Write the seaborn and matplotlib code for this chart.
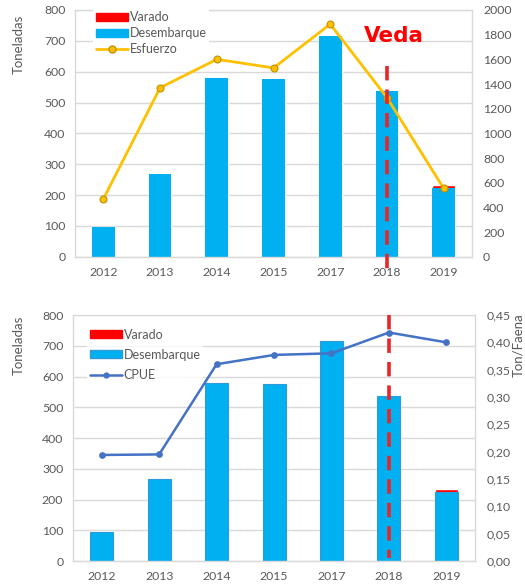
import numpy as np
import pandas as pd
import matplotlib
matplotlib.use("Agg")
import matplotlib.pyplot as plt
import seaborn as sns
from matplotlib.patches import Patch
from matplotlib.lines import Line2D
from matplotlib.ticker import FuncFormatter, MultipleLocator

years = ["2012", "2013", "2014", "2015", "2017", "2018", "2019"]
desembarque = [95, 267, 580, 577, 717, 538, 223]
varado = [0, 0, 0, 0, 0, 0, 10]
esfuerzo = [470, 1370, 1600, 1530, 1885, 1290, 555]
cpue = [0.194, 0.195, 0.360, 0.377, 0.380, 0.418, 0.400]
veda_year = "2018"

sns.set_style("white")
plt.rcParams['font.family'] = ['Lato', 'DejaVu Sans']

BLUE = "#00B0F0"
RED = "#FF0000"
GOLD = "#FFC000"
CPUE_C = "#4472C4"
GRID = "#D9D9D9"
TXT = "#595959"
TS = 8.8

df = pd.DataFrame({"year": years, "desembarque": desembarque, "varado": varado,
                   "esfuerzo": esfuerzo, "cpue": cpue})
df["total"] = df["desembarque"] + df["varado"]

fig = plt.figure(figsize=(5.25, 5.85), dpi=100)
ax1 = fig.add_axes([0.143, 0.561, 0.756, 0.422])
ax3 = fig.add_axes([0.139, 0.041, 0.766, 0.4205])


def style_left(ax):
    ax.set_ylim(0, 800)
    ax.yaxis.set_major_locator(MultipleLocator(100))
    ax.grid(axis="y", color=GRID, linewidth=1)
    ax.set_axisbelow(True)
    for s in ax.spines.values():
        s.set_color(GRID)
        s.set_linewidth(1)
    ax.tick_params(axis="both", length=0, labelsize=TS, colors=TXT, pad=7)
    ax.set_xlabel("")
    ax.set_ylabel("")
    ax.set_xlim(-0.5, len(years) - 0.5)


def bars(ax, edge=None):
    sns.barplot(data=df, x="year", y="total", color=RED, width=0.4,
                saturation=1, ax=ax, order=years)
    sns.barplot(data=df, x="year", y="desembarque", color=BLUE, width=0.4,
                saturation=1, ax=ax, order=years,
                edgecolor=edge if edge else BLUE, linewidth=0.8 if edge else 0)
    style_left(ax)


# ---------- top chart ----------
bars(ax1)
ax2 = ax1.twinx()
sns.pointplot(data=df, x="year", y="esfuerzo", order=years, ax=ax2, color=GOLD,
              markers="o", linewidth=2, markersize=5,
              markeredgecolor="#BF9000", markeredgewidth=0.8, errorbar=None)
ax2.set_ylim(0, 2000)
ax2.yaxis.set_major_locator(MultipleLocator(200))
ax2.tick_params(axis="y", length=0, labelsize=TS, colors=TXT, pad=8)
ax2.set_ylabel("")
ax2.set_xlabel("")
for s in ax2.spines.values():
    s.set_visible(False)
ax2.set_xlim(-0.5, len(years) - 0.5)

xv = years.index(veda_year)
ax2.plot([xv, xv], [1545, -140], color="#E8262A", linewidth=2.6,
         dashes=(4, 2.5), clip_on=False, zorder=5)
ax2.text(xv + 0.13, 1790, "Veda", color="#FF0000", fontsize=15.5,
         fontweight="bold", ha="center", va="center",
         family=["DejaVu Sans"])

h1 = [Patch(color=RED), Patch(color=BLUE),
      Line2D([], [], color=GOLD, linewidth=2, marker="o", markersize=5,
             markeredgecolor="#BF9000", markerfacecolor=GOLD)]
leg = ax2.legend(h1, ["Varado", "Desembarque", "Esfuerzo"], loc="upper left",
                 bbox_to_anchor=(0.03, 1.03), frameon=True, fontsize=9,
                 handlelength=2.6, handleheight=0.6, handletextpad=0.1,
                 labelspacing=0.3, borderpad=0.2, labelcolor=TXT)
leg.get_frame().set_edgecolor("none")
leg.get_frame().set_facecolor("white")
leg.get_frame().set_alpha(1)

fig.text(0.036, 0.925, "Toneladas", rotation=90, ha="center", va="center",
         fontsize=9.5, color=TXT)

# ---------- bottom chart ----------
bars(ax3, edge="#2E9BD6")
ax4 = ax3.twinx()
sns.pointplot(data=df, x="year", y="cpue", order=years, ax=ax4, color=CPUE_C,
              markers="o", linewidth=1.8, markersize=3.5, errorbar=None)
ax4.set_ylim(0, 0.45)
ax4.yaxis.set_major_locator(MultipleLocator(0.05))
ax4.yaxis.set_major_formatter(FuncFormatter(lambda v, p: f"{v:.2f}".replace(".", ",")))
ax4.tick_params(axis="y", length=0, labelsize=TS, colors=TXT, pad=8)
ax4.set_ylabel("")
ax4.set_xlabel("")
for s in ax4.spines.values():
    s.set_visible(False)
ax4.set_xlim(-0.5, len(years) - 0.5)
ax4.plot([xv, xv], [0.45, 0.005], color="#E8262A", linewidth=2.6,
         dashes=(4, 2.5), clip_on=False, zorder=5)

h2 = [Patch(color=RED), Patch(facecolor=BLUE, edgecolor="#2E9BD6"),
      Line2D([], [], color=CPUE_C, linewidth=1.8, marker="o", markersize=3.5)]
leg2 = ax4.legend(h2, ["Varado", "Desembarque", "CPUE"], loc="upper left",
                  bbox_to_anchor=(0.02, 0.98), frameon=True, fontsize=9,
                  handlelength=2.6, handleheight=0.6, handletextpad=0.1,
                  labelspacing=0.65, borderpad=0.2, labelcolor=TXT)
leg2.get_frame().set_edgecolor("none")
leg2.get_frame().set_facecolor("white")

fig.text(0.036, 0.41, "Toneladas", rotation=90, ha="center", va="center",
         fontsize=9.5, color=TXT)
fig.text(0.988, 0.41, "Ton/Faena", rotation=90, ha="center", va="center",
         fontsize=9.5, color=TXT)

fig.savefig("out.png", dpi=100)
